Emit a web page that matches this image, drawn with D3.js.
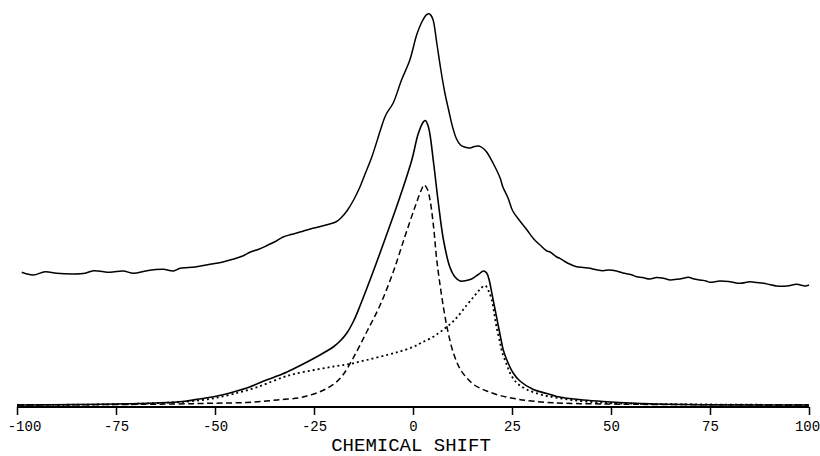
<!DOCTYPE html>
<html>
<head>
<meta charset="utf-8">
<script src="https://cdn.jsdelivr.net/npm/d3@7"></script>
<style>
  body { margin: 0; background: #fff; }
  text { font-family: "Liberation Mono", "DejaVu Sans Mono", monospace; fill: #000; }
</style>
</head>
<body>
<div id="chart"></div>
<script>
// chemical shift ticks
var tickValues = [-100, -75, -50, -25, 0, 25, 50, 75, 100];
var axisTitle = "CHEMICAL SHIFT";

// experimental spectrum (upper, offset trace): [shift, intensity]
var experimental = [
    [-98.8, 132.7], [-95.9, 130], [-92.9, 133.3], [-90, 131.7], [-85.8, 131], [-82.8, 131.7],
    [-80.7, 134.3], [-76.5, 132.7], [-73.2, 134], [-70.6, 131.7], [-67.2, 134.3], [-63.1, 135.7],
    [-60.5, 134], [-58.8, 136.7], [-55, 138], [-51.3, 140.7], [-48, 143], [-45.5, 145.7],
    [-43, 149], [-41.2, 152.7], [-38.8, 156], [-36.6, 160], [-34.5, 164], [-32.8, 168],
    [-30.8, 170.5], [-28, 173.5], [-25.3, 176.7], [-22, 180], [-19.5, 183], [-18.2, 187],
    [-16.7, 194], [-15, 205], [-13.4, 218], [-12, 232], [-10.4, 248], [-8.3, 274],
    [-7.2, 287], [-6.6, 292], [-5, 302], [-2.9, 325], [-0.8, 345], [1, 371],
    [2.5, 385], [3.5, 390.5], [4.2, 391], [5, 386], [6, 362], [7, 336],
    [8, 313], [9, 295], [10, 278], [11, 266], [12, 260], [13, 258],
    [14.4, 257], [15.5, 258.5], [16.6, 259], [17.6, 257], [18.6, 253], [20.2, 242],
    [22, 227], [22.7, 218], [24, 207], [25.2, 194], [27, 184], [28.8, 175],
    [30.5, 166], [32.1, 160], [33.8, 154], [34.6, 153], [36.3, 148], [37.1, 146.7],
    [39, 142], [41.3, 138.3], [43, 137.5], [44.7, 136.7], [46, 135.5], [48, 134.3],
    [49.5, 135], [51.4, 134], [53, 132], [55, 130.5], [56.5, 128.3], [58, 127.5],
    [59.8, 126], [61.5, 127.5], [63.2, 126.7], [65, 125], [66.6, 125.7], [68, 126.5],
    [69.5, 127.7], [71, 126], [72.5, 125], [74, 124], [75, 122.7], [77.5, 124],
    [80, 123.3], [82.6, 121.7], [85.1, 123.3], [86.8, 122.5], [88.5, 121.7], [90, 120.5],
    [91.8, 119], [94.4, 119], [96.9, 120.7], [99, 119], [100, 120]
];

// simulated total (lower solid)
var simulated = [
    [-100, 0], [-85, 0.5], [-75, 1], [-65, 2], [-58, 3.5], [-54, 6], [-50, 8.5],
    [-45, 13.5], [-42, 17], [-37, 25], [-33, 31], [-30, 36.5], [-27, 42.5], [-23.5, 50],
    [-20, 58.5], [-18.4, 64], [-16.7, 72], [-15, 84], [-13.4, 99], [-10, 134],
    [-6.6, 171], [-3.3, 208], [-0.3, 245], [1.3, 271], [2.6, 283], [3.1, 284.5], [3.9, 278],
    [5.2, 242], [6.4, 202], [7.7, 165], [9.3, 138], [10.6, 128], [11.9, 124], [13.5, 124.5], [14.8, 126],
    [16.5, 130.5], [17.8, 134], [18.6, 132], [19.3, 124], [19.9, 112], [20.7, 96], [21.5, 80], [22.2, 66],
    [22.8, 55], [23.7, 45], [25.3, 32], [27, 24], [30.4, 15.5], [33.8, 11.5],
    [36.3, 8.5], [43, 5], [49, 3.3], [60, 1.2], [72.5, 0.3], [100, 0]
];

// component 1 (dashed)
var componentA = [
    [-100, 0], [-75, 0.5], [-60, 1], [-50, 1.8], [-42, 2.5], [-37, 4], [-33, 5.5],
    [-29, 7], [-26.8, 9], [-24, 12.5], [-21.8, 16.5], [-19.5, 22.5], [-17.7, 30],
    [-15.1, 47], [-11.7, 73], [-8.3, 100], [-5, 133], [-2, 169], [0.5, 198],
    [2.1, 215], [2.8, 220], [3.6, 216], [4.3, 205], [5.2, 178], [6, 145], [7.2, 110], [8.1, 88],
    [8.9, 72], [10.2, 52], [11.9, 36], [13.6, 27], [15.5, 20], [18.6, 14],
    [22, 9.5], [26.2, 6], [30, 4], [35.4, 2.2], [49, 1], [75, 0.3], [100, 0]
];

// component 2 (dotted)
var componentB = [
    [-100, 0], [-85, 0.3], [-75, 0.8], [-65, 1.8], [-57, 3.5], [-50.4, 6.7], [-44, 12.5],
    [-40, 17], [-36.9, 21.5], [-33, 27.5], [-30, 31], [-25, 35], [-20, 38.5], [-16, 41],
    [-11.7, 45], [-6.6, 50], [-3.3, 53.5], [0, 58], [2, 62], [5, 68], [7.7, 75.5],
    [10.5, 85], [13.6, 100], [15.5, 109], [17, 116], [18.2, 119.5], [19.1, 114],
    [19.9, 105], [20.5, 92], [21.1, 78], [22, 62], [22.5, 53], [23.7, 40], [24.5, 32],
    [26, 23], [27, 19.5], [28.7, 15.5], [31, 12], [33.8, 9], [36, 7.5], [40, 5],
    [45.5, 2.8], [50, 1.8], [60, 1], [75, 0.5], [100, 0]
];

var width = 820, height = 456;

var svg = d3.select("#chart")
    .append("svg")
    .attr("width", width)
    .attr("height", height);

var x = d3.scaleLinear().domain([-100, 100]).range([17, 809]);
var y = d3.scaleLinear().domain([0, 400]).range([405, 5]);

var line = d3.line()
    .x(function (d) { return x(d[0]); })
    .y(function (d) { return y(d[1]); })
    .curve(d3.curveCatmullRom.alpha(0.5));

function trace(data, dash, w) {
    svg.append("path")
        .datum(data)
        .attr("d", line)
        .attr("fill", "none")
        .attr("stroke", "#000")
        .attr("stroke-width", w)
        .attr("stroke-dasharray", dash)
        .attr("stroke-linejoin", "round");
}

trace(componentA, "6,3.5", 1.5);
trace(componentB, "2,3", 1.8);
trace(simulated, null, 1.6);
trace(experimental, null, 1.5);

// axis
var xAxis = d3.axisBottom(x)
    .tickValues(tickValues)
    .tickSize(8)
    .tickPadding(6)
    .tickFormat(function (d) { return String(d); });

var gx = svg.append("g")
    .attr("transform", "translate(0," + (y(0) + 2) + ")")
    .call(xAxis);

gx.select(".domain")
    .attr("d", "M" + x(-100) + ",0H" + x(100))
    .attr("stroke", "#000")
    .attr("stroke-width", 2);
gx.selectAll(".tick line").attr("stroke", "#000").attr("stroke-width", 1.5);
gx.selectAll(".tick text")
    .attr("font-size", 14)
    .attr("font-family", "DejaVu Sans Mono")
    .attr("fill", "#000")
    .attr("dx", function (d) { return d === -100 ? 7 : (d === 100 ? -2 : 0); });

svg.append("text")
    .attr("x", x(0) - 2)
    .attr("y", 451)
    .attr("text-anchor", "middle")
    .attr("font-size", 19)
    .text(axisTitle);
</script>
</body>
</html>
